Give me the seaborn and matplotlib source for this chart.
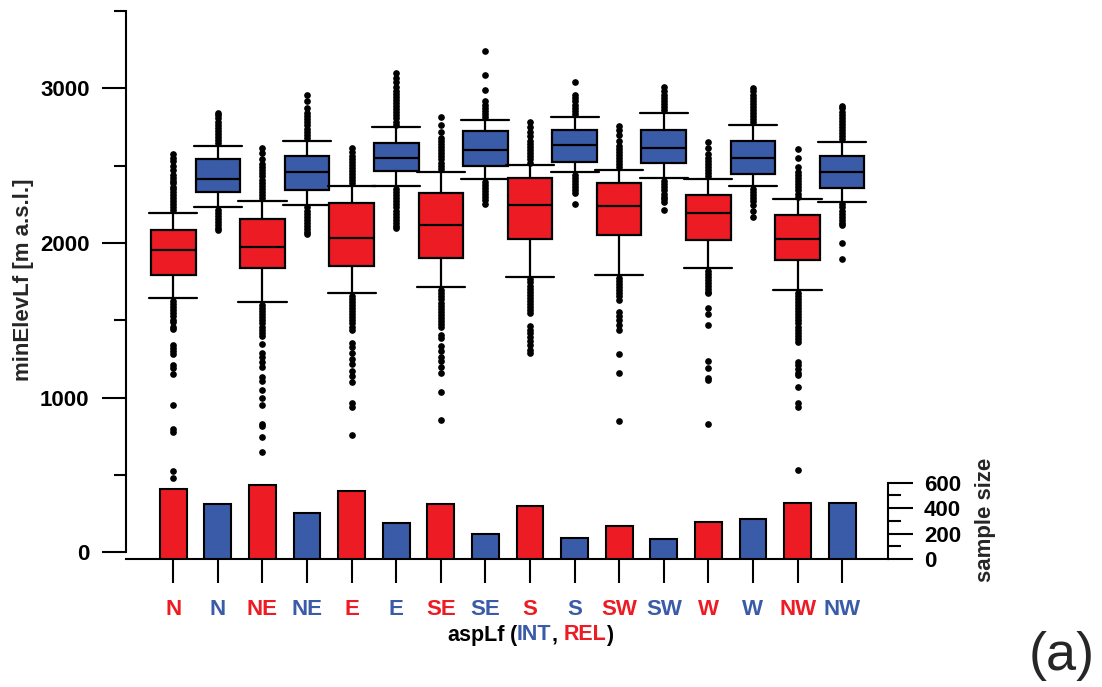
import matplotlib
matplotlib.use("Agg")
import matplotlib.pyplot as plt
import seaborn as sns
import pandas as pd
from matplotlib.offsetbox import TextArea, HPacker, AnnotationBbox

# categories (REL / INT alternate for each aspect)
aspects = ["N", "N", "NE", "NE", "E", "E", "SE", "SE",
           "S", "S", "SW", "SW", "W", "W", "NW", "NW"]
groups = ["REL", "INT"] * 8

# box statistics for minElevLf [m a.s.l.]
q1 = [1794, 2329, 1840, 2342, 1852, 2464, 1902, 2501,
      2028, 2525, 2050, 2518, 2020, 2449, 1893, 2356]
med = [1955, 2415, 1975, 2460, 2033, 2550, 2117, 2604,
       2244, 2633, 2242, 2615, 2193, 2550, 2028, 2458]
q3 = [2087, 2542, 2156, 2563, 2257, 2645, 2322, 2723,
      2423, 2730, 2391, 2732, 2311, 2658, 2182, 2565]
whislo = [1643, 2233, 1619, 2247, 1679, 2369, 1714, 2413,
          1783, 2458, 1794, 2421, 1841, 2371, 1697, 2268]
whishi = [2197, 2630, 2272, 2661, 2369, 2747, 2462, 2798,
          2503, 2816, 2471, 2842, 2415, 2762, 2283, 2654]

fliers = [
    [2215, 2235, 2255, 2270, 2290, 2310, 2330, 2350, 2365, 2385, 2400, 2420, 2440, 2470, 2500, 2530, 2550, 2575,
     1625, 1605, 1585, 1565, 1545, 1525, 1505, 1490, 1460, 1445, 1340, 1320, 1300, 1280, 1210, 1190, 1150,
     955, 800, 780, 528, 479],
    [2645, 2665, 2685, 2705, 2725, 2745, 2765, 2785, 2805, 2825, 2840,
     2215, 2195, 2175, 2155, 2135, 2115, 2100, 2085],
    [2290, 2310, 2330, 2350, 2370, 2390, 2410, 2430, 2450, 2470, 2490, 2510, 2540, 2580, 2613,
     1600, 1580, 1560, 1540, 1520, 1500, 1480, 1460, 1440, 1420, 1400,
     1345, 1290, 1265, 1230, 1200, 1135, 1105, 1050, 995, 953, 830, 815, 748, 651],
    [2680, 2700, 2720, 2740, 2760, 2780, 2800, 2820, 2840, 2870, 2920, 2958,
     2230, 2210, 2190, 2170, 2150, 2130, 2110, 2090, 2070, 2057],
    [2385, 2405, 2425, 2445, 2465, 2485, 2505, 2525, 2545, 2565, 2590, 2617,
     1660, 1640, 1620, 1600, 1580, 1560, 1540, 1520, 1500, 1480, 1460, 1440,
     1352, 1330, 1290, 1250, 1220, 1175, 1140, 1104, 964, 942, 759],
    [2765, 2785, 2805, 2825, 2845, 2865, 2885, 2905, 2925, 2945, 2965, 2985, 3010, 3040, 3070, 3098,
     2350, 2330, 2310, 2290, 2270, 2250, 2230, 2210, 2190, 2170, 2150, 2130, 2110, 2096],
    [2480, 2500, 2520, 2540, 2560, 2580, 2600, 2620, 2640, 2660, 2680, 2720, 2760, 2814,
     1695, 1675, 1655, 1635, 1615, 1595, 1575, 1555, 1535, 1515, 1495, 1475, 1459,
     1406, 1385, 1335, 1300, 1265, 1240, 1200, 1158, 1039, 856],
    [2815, 2835, 2855, 2875, 2895, 2920, 2986, 3083, 3240,
     2395, 2375, 2355, 2335, 2315, 2295, 2275, 2253],
    [2520, 2540, 2560, 2580, 2600, 2620, 2640, 2660, 2690, 2720, 2750, 2785,
     1765, 1745, 1725, 1705, 1685, 1665, 1645, 1625, 1605, 1585, 1565, 1546,
     1464, 1440, 1415, 1390, 1365, 1340, 1310, 1287],
    [2835, 2855, 2875, 2895, 2915, 2935, 2958, 3044,
     2440, 2420, 2400, 2380, 2360, 2340, 2322, 2251],
    [2490, 2510, 2530, 2550, 2570, 2590, 2610, 2630, 2660, 2700, 2730, 2757,
     1775, 1755, 1735, 1715, 1695, 1675, 1655, 1632, 1556, 1530, 1500, 1470, 1438, 1281, 1158, 849],
    [2860, 2880, 2900, 2920, 2940, 2960, 2980, 3008,
     2400, 2380, 2360, 2340, 2320, 2300, 2285, 2268, 2214],
    [2430, 2450, 2470, 2490, 2510, 2530, 2550, 2575, 2613, 2656,
     1820, 1800, 1780, 1760, 1740, 1720, 1700, 1686, 1675, 1582, 1539, 1470, 1237, 1194, 1129, 1114, 828],
    [2780, 2800, 2820, 2840, 2860, 2880, 2900, 2920, 2940, 2960, 2985, 3005,
     2350, 2330, 2310, 2290, 2270, 2246, 2210, 2171],
    [2300, 2320, 2340, 2360, 2380, 2400, 2420, 2440, 2460, 2494, 2552, 2609,
     1680, 1660, 1640, 1620, 1600, 1580, 1560, 1540, 1520, 1500, 1480, 1460, 1440, 1420, 1400, 1380, 1362,
     1233, 1210, 1185, 1160, 1147, 1071, 968, 942, 532],
    [2670, 2690, 2710, 2730, 2750, 2770, 2790, 2810, 2830, 2850, 2870, 2887,
     2250, 2230, 2210, 2190, 2170, 2150, 2130, 2117, 2003, 1895],
]

sample_size = [553, 432, 579, 358, 537, 282, 432, 195,
               413, 166, 263, 158, 290, 316, 440, 440]

RED = "#ED1C24"
BLUE = "#3A5BA8"
colors = {"REL": RED, "INT": BLUE}

sns.set_theme(style="ticks")
plt.rcParams["font.family"] = ["Liberation Sans", "DejaVu Sans"]
plt.rcParams["font.weight"] = "bold"
plt.rcParams["axes.edgecolor"] = "black"
plt.rcParams["xtick.color"] = "black"
plt.rcParams["ytick.color"] = "black"

fig = plt.figure(figsize=(11.02, 6.87), dpi=100)
ax = fig.add_axes([0.1143, 0.1863, 0.6912, 0.7977])
ax2 = ax.twinx()

# sample size bars (right axis)
df = pd.DataFrame({"pos": list(range(16)), "n": sample_size, "group": groups})
sns.barplot(data=df, x="pos", y="n", hue="group", palette=colors, dodge=False,
            width=0.6, saturation=1, edgecolor="black", linewidth=1.5,
            legend=False, ax=ax2)

# elevation boxes (left axis)
stats = [dict(q1=q1[i], med=med[i], q3=q3[i], whislo=whislo[i],
              whishi=whishi[i], fliers=fliers[i]) for i in range(16)]
line = dict(color="black", linewidth=1.6)
bp = ax.bxp(stats, positions=list(range(16)), widths=1.0, capwidths=1.08,
            patch_artist=True,
            boxprops=dict(edgecolor="black", linewidth=1.6),
            medianprops=line, whiskerprops=line, capprops=line,
            flierprops=dict(marker="o", markerfacecolor="black",
                            markeredgecolor="black", markersize=3.8,
                            linestyle="none"))
for patch, g in zip(bp["boxes"], groups):
    patch.set_facecolor(colors[g])

ax.set_xlim(-1.06, 16.02)
ax.set_ylim(-43, 3500)
ax2.set_ylim(0, 4309)

for s in ["top", "right"]:
    ax.spines[s].set_visible(False)
for s in ["top", "left", "bottom"]:
    ax2.spines[s].set_visible(False)
ax.spines["left"].set_bounds(0, 3500)
ax2.spines["right"].set_bounds(0, 600)
for sp in list(ax.spines.values()) + list(ax2.spines.values()):
    sp.set_linewidth(1.5)

ax.set_yticks([0, 1000, 2000, 3000])
ax.set_yticks([500, 1500, 2500, 3500], minor=True)
ax.tick_params(axis="y", which="major", length=17.3, width=1.5, pad=8.9, labelsize=16)
ax.tick_params(axis="y", which="minor", length=8.6, width=1.5, left=True)

ax.set_xticks(list(range(16)))
ax.set_xticklabels(aspects)
ax.tick_params(axis="x", length=17.3, width=1.5, pad=11.5, labelsize=16)
for lab, g in zip(ax.get_xticklabels(), groups):
    lab.set_color(colors[g])
    lab.set_fontweight("bold")

ax2.set_yticks([0, 200, 400, 600])
ax2.set_yticks([100, 300, 500], minor=True)
ax2.tick_params(axis="y", which="major", length=18, width=1.5, pad=8, labelsize=16)
ax2.tick_params(axis="y", which="minor", length=9.4, width=1.5, right=True)

ax.set_xlabel("")
ax2.set_xlabel("")
ax.set_ylabel("minElevLf [m a.s.l.]", fontsize=16, fontweight="bold")
ax.yaxis.set_label_coords(-0.1208, 0.509)
ax2.set_ylabel("sample size", fontsize=16, fontweight="bold")
ax2.yaxis.set_label_coords(1.1146, 0.071)


def piece(s, c):
    return TextArea(s, textprops=dict(color=c, fontsize=15.5, fontweight="bold"))


xlab = HPacker(children=[
    piece("aspLf", "black"),
    HPacker(children=[piece("(", "black"), piece("INT", BLUE), piece(",", "black")],
            sep=0, pad=0, align="baseline"),
    HPacker(children=[piece("REL", RED), piece(")", "black")],
            sep=0, pad=0, align="baseline"),
], sep=4, pad=0, align="baseline")
ab = AnnotationBbox(xlab, (530 / 1102, 1 - 635 / 687), xycoords="figure fraction",
                    frameon=False, box_alignment=(0.5, 0.5), pad=0)
fig.add_artist(ab)

fig.text(1062 / 1102, 1 - 656 / 687, "(a)", fontsize=39, fontweight="normal",
         ha="center", va="center")

fig.savefig("out.png", dpi=100)
